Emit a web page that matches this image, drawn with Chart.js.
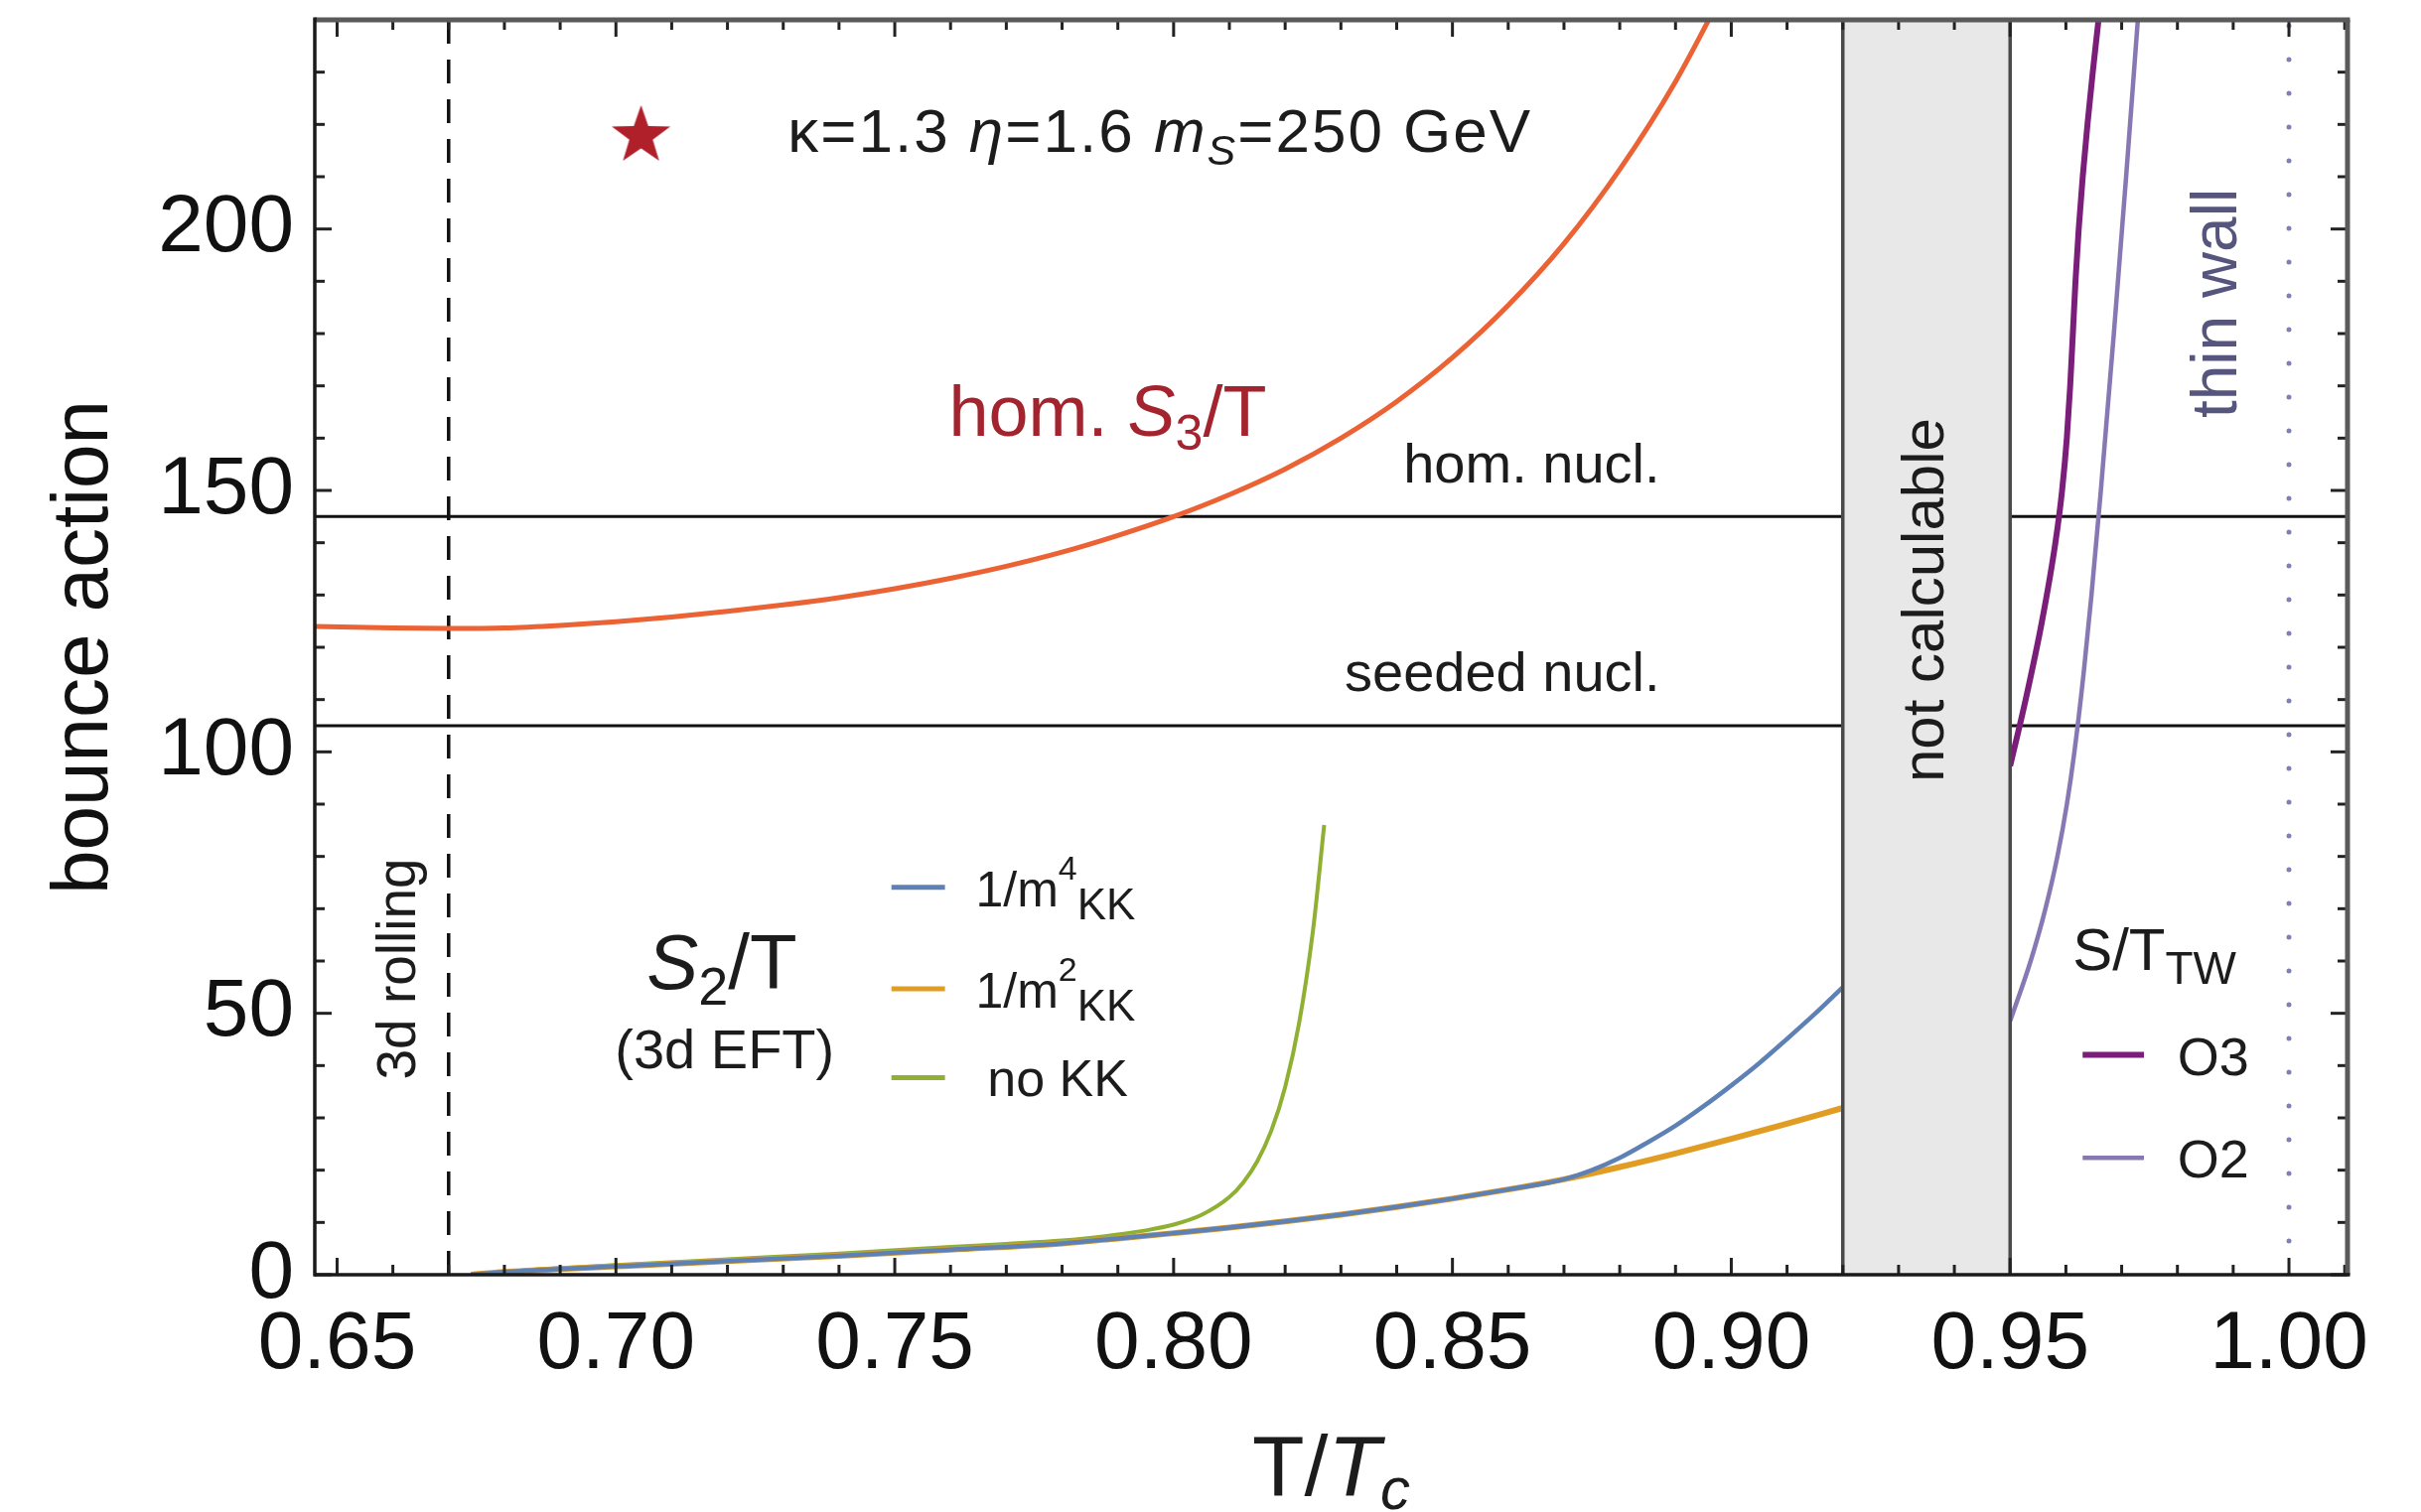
<!DOCTYPE html>
<html>
<head>
<meta charset="utf-8">
<script src="https://cdn.jsdelivr.net/npm/chart.js@4.4.1/dist/chart.umd.min.js"></script>
<style>
  html, body { margin: 0; padding: 0; background: #fff; }
  #wrap { width: 2438px; height: 1523px; }
</style>
</head>
<body>
<div id="wrap"><canvas id="bounceChart"></canvas></div>
<script>
const FONT = "'Liberation Sans', Arial, Helvetica, sans-serif";
Chart.defaults.font.family = FONT;
Chart.defaults.color = '#111111';

// Axis ticks
const xTickValues = [0.65, 0.70, 0.75, 0.80, 0.85, 0.90, 0.95, 1.00];
const yTickValues = [0, 50, 100, 150, 200];

// hom. S3/T
const s3X = [0.646, 0.66, 0.67, 0.68, 0.69, 0.70, 0.71, 0.72, 0.73, 0.74, 0.75, 0.76, 0.77, 0.78, 0.79, 0.80, 0.81, 0.82, 0.83, 0.84, 0.85, 0.86, 0.87, 0.88, 0.89, 0.90];
const s3Y = [124.0, 123.7, 123.6, 123.7, 124.2, 124.9, 125.8, 126.9, 128.1, 129.5, 131.2, 133.2, 135.5, 138.2, 141.4, 145.0, 149.2, 154.1, 160.0, 167.0, 175.4, 185.4, 197.2, 211.4, 228.2, 248.3];

// S2/T, 3d EFT variants
const m2X = [0.674, 0.68, 0.69, 0.70, 0.72, 0.74, 0.76, 0.78, 0.79, 0.80, 0.81, 0.82, 0.83, 0.84, 0.85, 0.86, 0.87, 0.88, 0.89, 0.90, 0.91, 0.92];
const m2Y = [0.0, 0.5, 1.1, 1.6, 2.6, 3.6, 4.8, 6.0, 6.95, 7.95, 9.0, 10.2, 11.5, 12.95, 14.55, 16.3, 18.25, 20.6, 23.2, 26.0, 28.9, 31.9];
const m4X = [0.674, 0.68, 0.69, 0.70, 0.72, 0.74, 0.76, 0.78, 0.79, 0.80, 0.81, 0.82, 0.83, 0.84, 0.85, 0.86, 0.87, 0.875, 0.88, 0.885, 0.89, 0.895, 0.90, 0.905, 0.91, 0.915, 0.92];
const m4Y = [0.0, 0.5, 1.1, 1.6, 2.6, 3.6, 4.8, 6.0, 6.95, 7.95, 9.0, 10.2, 11.5, 12.95, 14.55, 16.3, 18.25, 20.0, 22.35, 25.3, 28.5, 32.2, 36.2, 40.45, 45.1, 49.9, 55.0];
const noKKX = [0.674, 0.68, 0.69, 0.70, 0.72, 0.74, 0.76, 0.77, 0.78, 0.785, 0.79, 0.795, 0.80, 0.805, 0.81, 0.8125, 0.815, 0.8175, 0.82, 0.8225, 0.825, 0.827];
const noKKY = [0.0, 0.55, 1.25, 1.85, 2.95, 4.05, 5.3, 5.9, 6.55, 7.05, 7.7, 8.47, 9.58, 11.43, 14.84, 17.67, 21.7, 27.5, 35.9, 48.1, 65.9, 86.0];

// thin wall S/T
const o3X = [0.95, 0.95279, 0.95572, 0.95812, 0.95932, 0.96017, 0.96077, 0.96125, 0.96172, 0.9623, 0.96302, 0.96387, 0.96482, 0.96585, 0.9663];
const o3Y = [97.3, 110, 125, 140, 150, 160, 170, 180, 190, 200, 210, 220, 230, 240, 244.5];
const o2X = [0.95, 0.95368, 0.95633, 0.95848, 0.96018, 0.96153, 0.96318, 0.96459, 0.96627, 0.9686, 0.9708, 0.9729, 0.97322];
const o2Y = [48.5, 60, 70, 80, 90, 100, 115, 130, 150, 180, 210, 240, 244.5];

// reference levels and regions
const nuclLevels = [145, 105];
const rollingX = 0.67;
const thinWallX = 1.00;
const bandRange = [0.92, 0.95];
const starX = [0.7045];
const starY = [217.8];

const X_MIN = 0.646, X_MAX = 1.0105, Y_MIN = 0, Y_MAX = 240;

const pts = (xs, ys) => xs.map((x, i) => ({ x: x, y: ys[i] }));

function makeStar(r, color) {
    const c = document.createElement('canvas');
    const size = Math.ceil(r * 2 + 4);
    c.width = c.height = size;
    const g = c.getContext('2d');
    g.translate(size / 2, size / 2);
    g.beginPath();
    for (let i = 0; i < 10; i++) {
        const rad = i % 2 === 0 ? r : r * 0.4;
        const a = -Math.PI / 2 + i * Math.PI / 5;
        g.lineTo(rad * Math.cos(a), rad * Math.sin(a));
    }
    g.closePath();
    g.fillStyle = color;
    g.fill();
    return c;
}

const curve = (label, xs, ys, color, width) => ({
    label: label,
    data: pts(xs, ys),
    borderColor: color,
    borderWidth: width,
    pointRadius: 0,
    cubicInterpolationMode: 'monotone',
    fill: false
});

const straight = (label, data, color, width, dash) => ({
    label: label,
    data: data,
    borderColor: color,
    borderWidth: width,
    borderDash: dash || [],
    borderCapStyle: dash && dash[0] === 0 ? 'round' : 'butt',
    pointRadius: 0,
    tension: 0,
    fill: false
});

// helper to draw text made of runs (italic, sub/superscripts)
function drawRuns(ctx, runs, x, y, align, spacing) {
    ctx.letterSpacing = (spacing || 0) + 'px';
    let total = 0;
    runs.forEach(r => {
        ctx.font = (r.it ? 'italic ' : '') + r.size + 'px ' + FONT;
        r.w = ctx.measureText(r.t).width;
        total += r.w;
    });
    let cx = align === 'center' ? x - total / 2 : (align === 'right' ? x - total : x);
    ctx.textAlign = 'left';
    ctx.textBaseline = 'alphabetic';
    runs.forEach(r => {
        ctx.font = (r.it ? 'italic ' : '') + r.size + 'px ' + FONT;
        ctx.fillStyle = r.color || '#1c1c1c';
        ctx.fillText(r.t, cx, y + (r.dy || 0));
        cx += r.w;
    });
    ctx.letterSpacing = '0px';
}

function drawRotated(ctx, text, x, y, size, color) {
    ctx.save();
    ctx.translate(x, y);
    ctx.rotate(-Math.PI / 2);
    ctx.font = size + 'px ' + FONT;
    ctx.fillStyle = color;
    ctx.textAlign = 'center';
    ctx.textBaseline = 'middle';
    ctx.fillText(text, 0, 0);
    ctx.restore();
}

const S3_RED = '#A3232E';

// grey band + all labels
const annotations = {
    id: 'annotations',
    afterDatasetsDraw(chart) {
        const { ctx, chartArea: a, scales: { x, y } } = chart;
        const X = v => x.getPixelForValue(v);
        const Y = v => y.getPixelForValue(v);
        ctx.save();

        // not calculable band
        const b0 = X(bandRange[0]), b1 = X(bandRange[1]);
        ctx.fillStyle = '#E8E8E8';
        ctx.fillRect(b0, a.top, b1 - b0, a.bottom - a.top);
        ctx.strokeStyle = '#4a4a4a';
        ctx.lineWidth = 3.5;
        ctx.beginPath();
        ctx.moveTo(b0, a.top); ctx.lineTo(b0, a.bottom);
        ctx.moveTo(b1, a.top); ctx.lineTo(b1, a.bottom);
        ctx.stroke();
        drawRotated(ctx, 'not calculable', (b0 + b1) / 2, Y(129), 60, '#1c1c1c');
        drawRotated(ctx, 'thin wall', X(0.9875), Y(185.8), 64, '#55557E');
        drawRotated(ctx, '3d rolling', X(0.6612), Y(58.5), 55, '#1c1c1c');

        // parameter line
        drawRuns(ctx, [
            { t: '\u03BA=1.3 ', size: 62 },
            { t: '\u03B7', size: 62, it: true },
            { t: '=1.6 ', size: 62 },
            { t: 'm', size: 62, it: true },
            { t: 'S', size: 43, it: true, dy: 13 },
            { t: '=250 GeV', size: 62 }
        ], X(0.7308), Y(214.8), 'left', 2);

        drawRuns(ctx, [
            { t: 'hom. ', size: 72, color: S3_RED },
            { t: 'S', size: 72, it: true, color: S3_RED },
            { t: '3', size: 50, dy: 14, color: S3_RED },
            { t: '/T', size: 72, color: S3_RED }
        ], X(0.7597), Y(160.4), 'left');

        drawRuns(ctx, [{ t: 'hom. nucl.', size: 56 }], X(0.8872), Y(151.5), 'right');
        drawRuns(ctx, [{ t: 'seeded nucl.', size: 56 }], X(0.8872), Y(111.6), 'right');

        drawRuns(ctx, [
            { t: 'S', size: 78, it: true },
            { t: '2', size: 54, dy: 16 },
            { t: '/T', size: 78 }
        ], X(0.719), Y(54.7), 'center');
        drawRuns(ctx, [{ t: '(3d EFT)', size: 56 }], X(0.7195), Y(39.4), 'center');

        // legend for S2/T curves
        const ds = chart.data.datasets;
        const legRows = [
            { yv: 74.1, color: ds[3].borderColor, runs: [{ t: '1/m', size: 50 }, { t: '4', size: 34, dy: -27 }, { t: 'KK', size: 44, dy: 13 }], tx: 0.7645 },
            { yv: 54.7, color: ds[4].borderColor, runs: [{ t: '1/m', size: 50 }, { t: '2', size: 34, dy: -27 }, { t: 'KK', size: 44, dy: 13 }], tx: 0.7645 },
            { yv: 37.7, color: ds[5].borderColor, runs: [{ t: 'no KK', size: 52 }], tx: 0.7666 }
        ];
        legRows.forEach(r => {
            ctx.strokeStyle = r.color;
            ctx.lineWidth = 5;
            ctx.beginPath();
            ctx.moveTo(X(0.7494), Y(r.yv)); ctx.lineTo(X(0.7590), Y(r.yv));
            ctx.stroke();
            drawRuns(ctx, r.runs, X(r.tx), Y(r.yv) + 19, 'left');
        });

        // legend for thin wall curves
        drawRuns(ctx, [{ t: 'S/T', size: 60 }, { t: 'TW', size: 46, dy: 14 }], X(0.9612), Y(58.3), 'left');
        [{ yv: 42.05, color: ds[1].borderColor, w: 6, t: 'O3' },
         { yv: 22.35, color: ds[2].borderColor, w: 4.5, t: 'O2' }].forEach(r => {
            ctx.strokeStyle = r.color;
            ctx.lineWidth = r.w;
            ctx.beginPath();
            ctx.moveTo(X(0.9630), Y(r.yv)); ctx.lineTo(X(0.9740), Y(r.yv));
            ctx.stroke();
            drawRuns(ctx, [{ t: r.t, size: 54 }], X(0.9800), Y(r.yv) + 20, 'left');
        });

        // x axis title
        drawRuns(ctx, [
            { t: 'T/', size: 86 },
            { t: 'T', size: 86, it: true },
            { t: 'c', size: 60, it: true, dy: 14 }
        ], (a.left + a.right) / 2, 1506, 'center');

        ctx.restore();
    }
};

// frame with inward major/minor ticks on all four sides
const frameTicks = {
    id: 'frameTicks',
    afterDraw(chart) {
        const { ctx, chartArea: a, scales: { x, y } } = chart;
        ctx.save();
        ctx.lineCap = 'butt';
        const seg = (x0, y0, x1, y1) => { ctx.beginPath(); ctx.moveTo(x0, y0); ctx.lineTo(x1, y1); ctx.stroke(); };

        ctx.strokeStyle = '#222';
        ctx.lineWidth = 3;
        for (let i = 0; ; i++) {
            const v = 0.65 + i * 0.01;
            if (v > X_MAX) break;
            const len = i % 5 === 0 ? 17 : 10;
            const px = x.getPixelForValue(v);
            seg(px, a.bottom, px, a.bottom - len);
            seg(px, a.top, px, a.top + len);
        }
        for (let v = 0; v <= Y_MAX; v += 10) {
            const len = v % 50 === 0 ? 17 : 10;
            const py = y.getPixelForValue(v);
            seg(a.left, py, a.left + len, py);
            seg(a.right, py, a.right - len, py);
        }

        ctx.strokeStyle = '#5a5a5a';
        ctx.lineWidth = 5;
        seg(a.left, a.top, a.right + 2.5, a.top);
        seg(a.right, a.top, a.right, a.bottom);
        ctx.strokeStyle = '#1a1a1a';
        ctx.lineWidth = 3.5;
        seg(a.left, a.top - 2.5, a.left, a.bottom + 1.75);
        seg(a.left, a.bottom, a.right + 2.5, a.bottom);
        ctx.restore();
    }
};

const bounceChart = new Chart(document.getElementById('bounceChart'), {
    type: 'line',
    data: {
        datasets: [
            {
                label: 'benchmark',
                data: pts(starX, starY),
                showLine: false,
                pointStyle: makeStar(31, '#B0202A'),
                pointRadius: 31
            },
            curve('O3', o3X, o3Y, '#7B1E7A', 6),
            curve('O2', o2X, o2Y, '#8778B3', 4.5),
            curve('1/m4 KK', m4X, m4Y, '#5E81B5', 4.5),
            curve('1/m2 KK', m2X, m2Y, '#E19C24', 6),
            curve('no KK', noKKX, noKKY, '#8FB032', 4),
            curve('hom. S3/T', s3X, s3Y, '#EB6235', 5),
            straight('hom. nucl.', [{ x: X_MIN, y: nuclLevels[0] }, { x: X_MAX, y: nuclLevels[0] }], '#111', 3),
            straight('seeded nucl.', [{ x: X_MIN, y: nuclLevels[1] }, { x: X_MAX, y: nuclLevels[1] }], '#111', 3),
            straight('3d rolling', [{ x: rollingX, y: Y_MIN }, { x: rollingX, y: Y_MAX }], '#111', 3.5, [24, 16]),
            straight('thin wall', [{ x: thinWallX, y: Y_MIN }, { x: thinWallX, y: Y_MAX }], '#7F7FB5', 5, [0, 34])
        ]
    },
    options: {
        responsive: true,
        maintainAspectRatio: false,
        animation: false,
        layout: { autoPadding: false, padding: { top: 20, right: 74, left: 0, bottom: 0 } },
        plugins: {
            legend: { display: false },
            tooltip: { enabled: false }
        },
        scales: {
            x: {
                type: 'linear',
                min: X_MIN,
                max: X_MAX,
                afterBuildTicks: s => { s.ticks = xTickValues.map(v => ({ value: v })); },
                afterFit: s => { s.height = 239; s.paddingLeft = 0; s.paddingRight = 0; },
                grid: { display: false, drawTicks: false },
                border: { display: false },
                ticks: {
                    autoSkip: false,
                    maxRotation: 0,
                    padding: 22,
                    font: { size: 82 },
                    color: '#111',
                    callback: v => Number(v).toFixed(2)
                }
            },
            y: {
                type: 'linear',
                min: Y_MIN,
                max: Y_MAX,
                afterBuildTicks: s => { s.ticks = yTickValues.map(v => ({ value: v })); },
                afterFit: s => { s.width = 317; s.paddingTop = 0; s.paddingBottom = 0; },
                grid: { display: false, drawTicks: false },
                border: { display: false },
                title: {
                    display: true,
                    text: 'bounce action',
                    font: { size: 80 },
                    color: '#111',
                    padding: { top: 38, bottom: 0 }
                },
                ticks: {
                    padding: 21,
                    font: { size: 82 },
                    color: '#111',
                    callback: v => String(v)
                }
            }
        }
    },
    plugins: [annotations, frameTicks]
});
</script>
</body>
</html>
